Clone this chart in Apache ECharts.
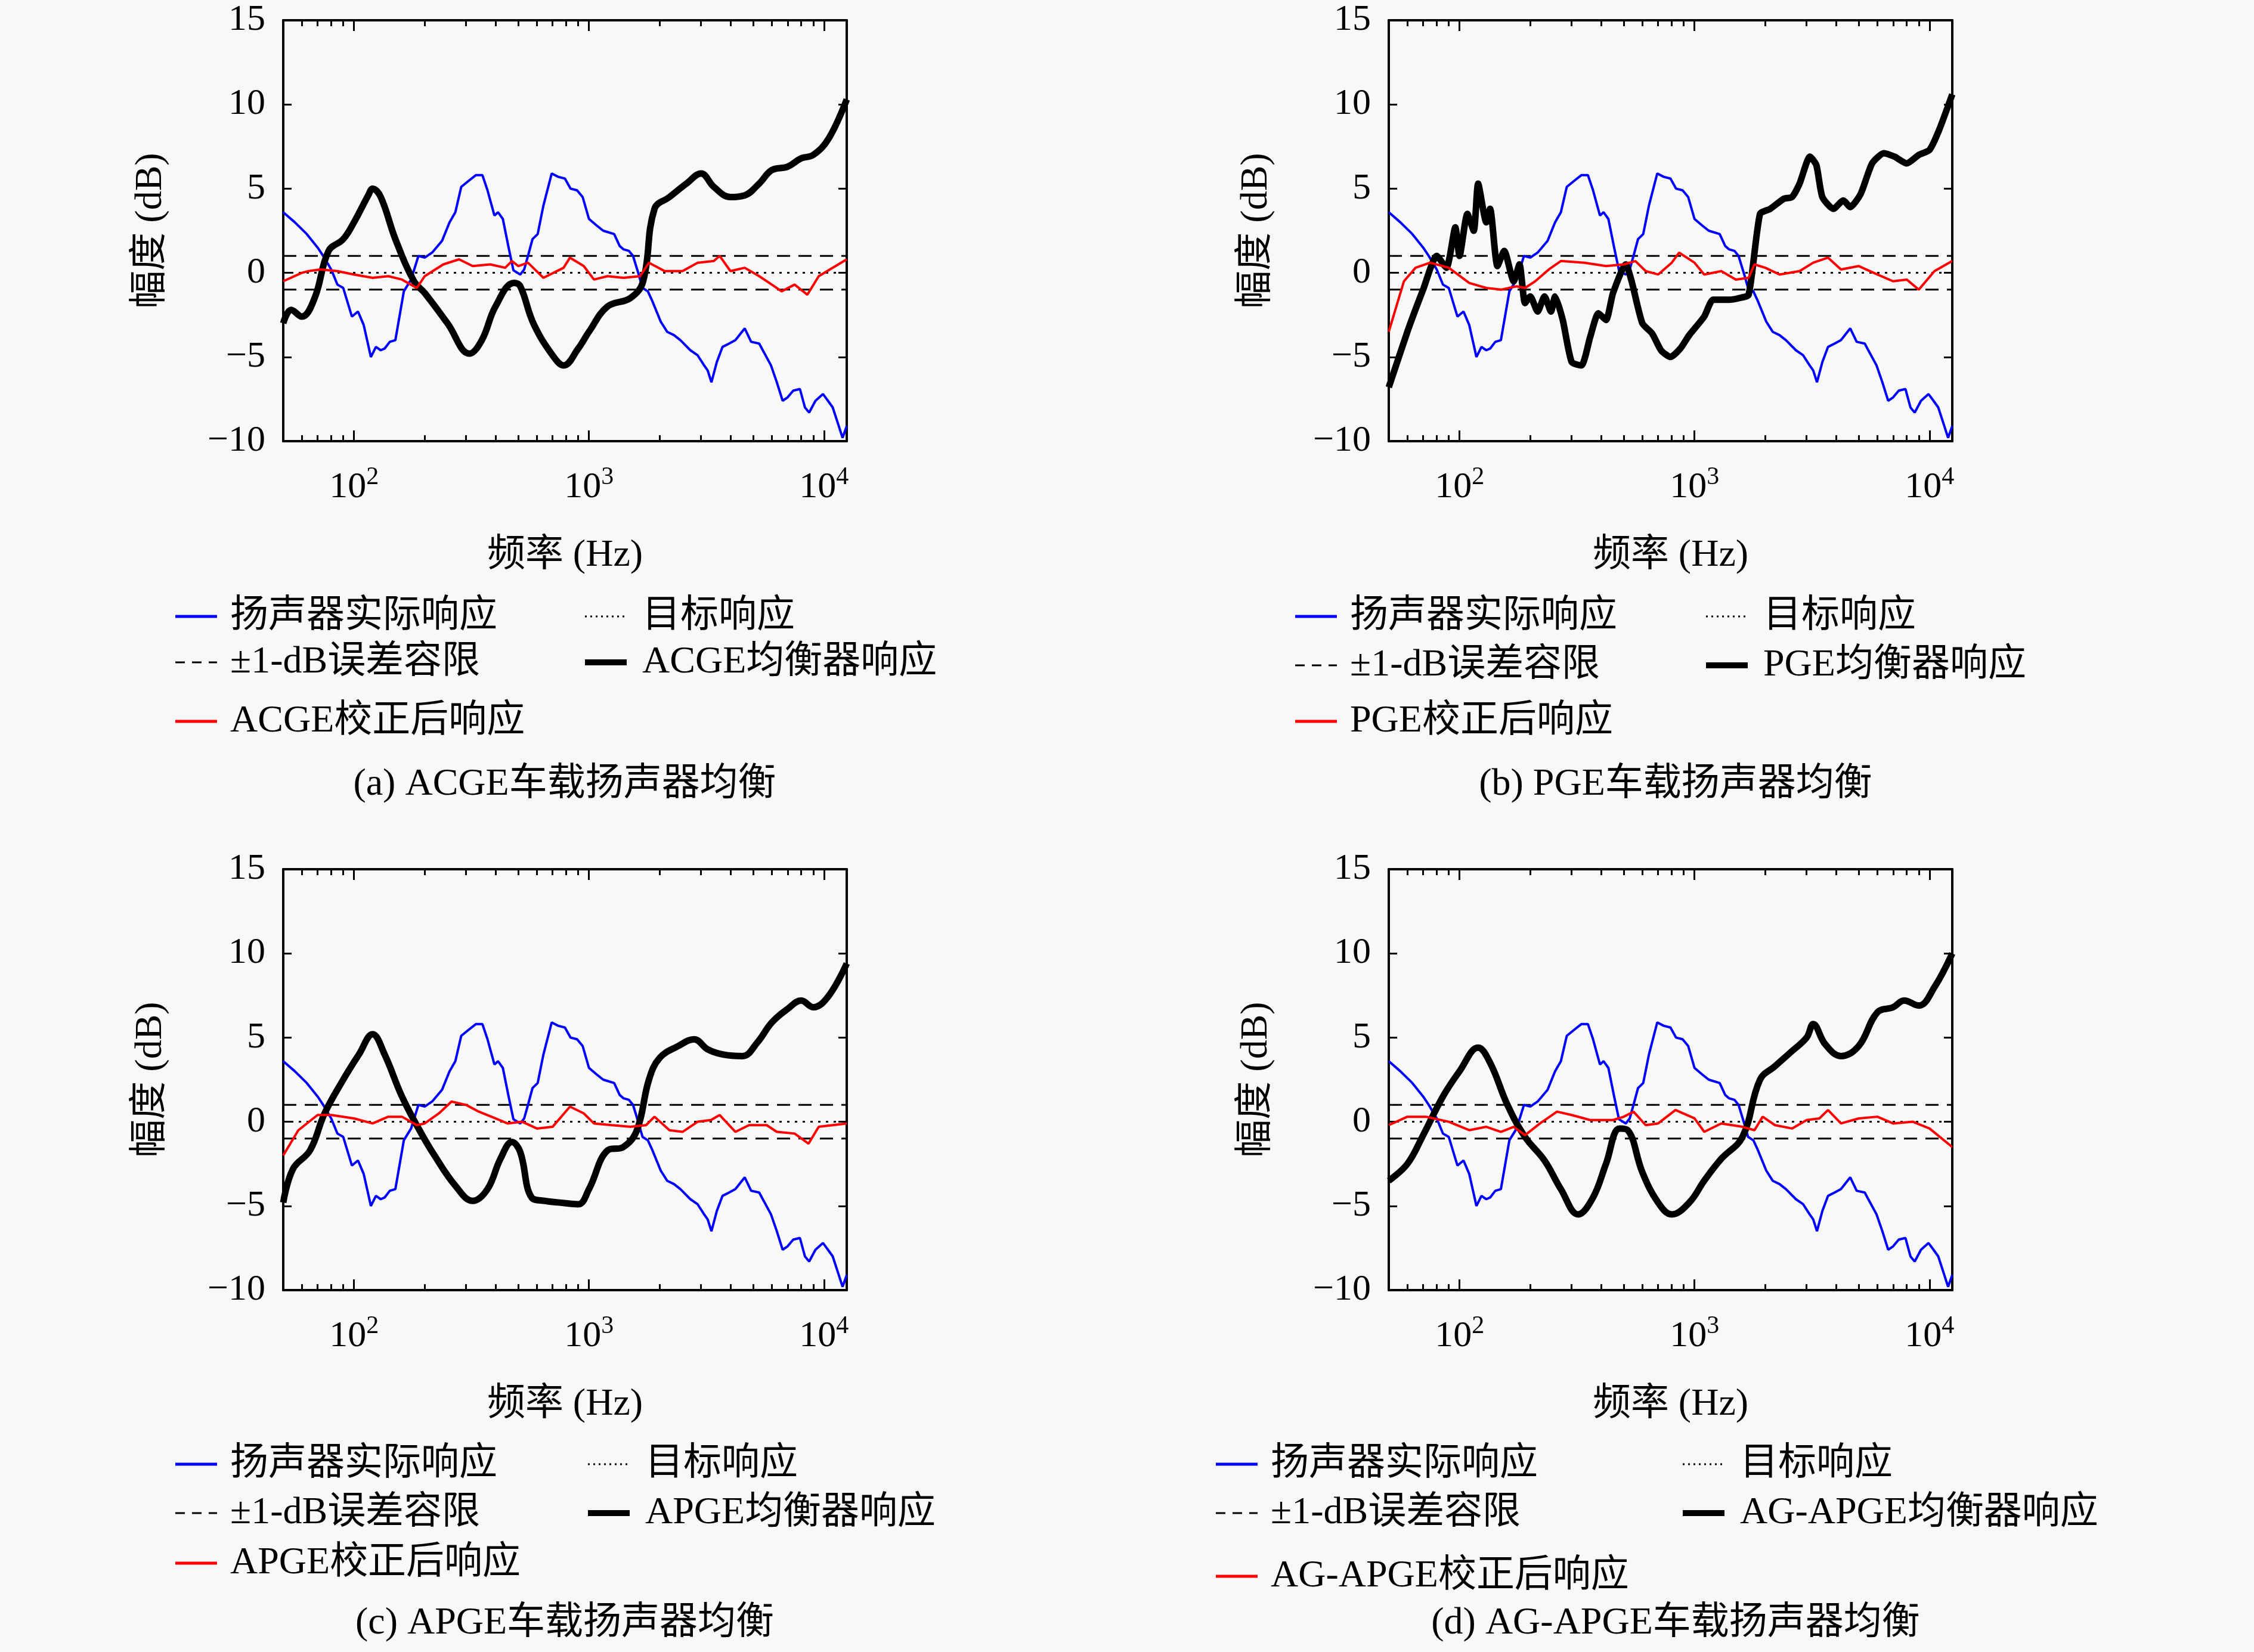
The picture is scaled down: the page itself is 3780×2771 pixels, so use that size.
<!DOCTYPE html>
<html>
<head>
<meta charset="utf-8">
<script src="https://cdn.jsdelivr.net/npm/echarts@6/dist/echarts.min.js"></script>
<style>
  html, body { margin: 0; padding: 0; background: #f8f8f8; }
  #main { width: 3780px; height: 2771px; }
</style>
</head>
<body>
<div id="main"></div>
<script>
// 扬声器实际响应（四幅图共用）
const blueF = [50,56,63,70,74,80,85,90,98,104,110,118,124,130,135,142,150,163,175,188,200,215,237,255,270,286,310,330,352,370,396,410,430,455,477,510,530,550,575,605,640,694,740,790,835,890,940,1000,1080,1150,1280,1350,1400,1480,1540,1620,1690,1780,1850,2020,2150,2300,2450,2700,2900,3090,3200,3320,3500,3700,3950,4200,4600,4900,5300,5950,6300,6670,7000,7400,7900,8300,8650,9200,9900,10400,10900,11500,12000,12500];
const blueV = [3.6,3.0,2.3,1.5,1.0,0.2,-0.7,-0.9,-2.6,-2.3,-3.1,-5.0,-4.4,-4.6,-4.5,-4.1,-4.0,-1.1,-0.4,1.0,0.9,1.2,1.9,3.0,3.6,5.1,5.5,5.8,5.8,4.9,3.4,3.6,3.2,1.5,0.15,-0.1,0.2,1.0,2.0,2.3,4.0,5.9,5.7,5.6,5.0,4.9,4.5,3.2,2.8,2.5,2.3,1.6,1.4,1.3,1.0,0.0,-0.9,-1.1,-1.6,-2.9,-3.5,-3.7,-4.0,-4.6,-4.9,-5.5,-5.8,-6.5,-5.3,-4.4,-4.2,-4.0,-3.3,-4.1,-4.2,-5.5,-6.5,-7.6,-7.4,-7.0,-6.9,-8.0,-8.3,-7.6,-7.2,-7.6,-8.0,-9.0,-9.8,-9.1];

// 目标响应与 ±1 dB 容限
const targetF = [50, 12500];
const targetV = [0, 0];
const tolUpper = [1, 1];
const tolLower = [-1, -1];

// (a) ACGE
const redAF = [50,60,64,72,85,100,120,140,160,185,200,240,280,320,380,440,470,500,550,640,780,830,950,1050,1200,1400,1650,1800,2100,2500,2900,3400,3600,4000,4600,5300,6000,6600,7500,8500,9500,12500];
const redAV = [-0.5,0.0,0.1,0.2,0.1,-0.1,-0.3,-0.2,-0.4,-0.9,-0.2,0.5,0.8,0.4,0.5,0.3,0.7,0.4,0.6,-0.3,0.3,0.9,0.4,-0.4,-0.2,-0.3,-0.2,0.6,0.1,0.1,0.6,0.7,1.0,0.1,0.3,-0.2,-0.7,-1.1,-0.7,-1.3,-0.2,0.8];
const blkAF = [50,54,60,68,78,90,100,115,120,130,150,180,200,250,310,350,400,480,510,580,700,780,900,1000,1200,1500,1700,1900,2200,2600,3000,3400,4000,4600,5300,6000,7000,8000,9000,10500,12500];
const blkAV = [-3.0,-2.2,-2.6,-1.5,1.3,2.0,3.0,4.6,5.0,4.5,2.0,-0.5,-1.2,-3.0,-4.8,-4.0,-2.0,-0.6,-0.8,-3.0,-4.9,-5.5,-4.5,-3.5,-2.0,-1.5,-0.5,3.8,4.5,5.3,5.9,5.1,4.5,4.6,5.3,6.1,6.3,6.8,7.0,8.0,10.3];

// (b) PGE
const redBF = [50,58,65,75,90,110,130,150,175,190,210,240,270,340,420,500,560,620,700,800,860,1000,1100,1300,1500,1700,1800,2000,2300,2800,3200,3700,4200,5000,6000,7000,8000,9000,10500,12500];
const redBV = [-3.5,-0.5,0.3,0.6,0.3,-0.6,-0.9,-1.0,-0.8,-0.9,-0.5,0.2,0.7,0.6,0.4,0.5,0.7,0.1,-0.1,0.6,1.2,0.6,-0.1,0.1,-0.4,-0.3,0.5,0.3,-0.1,0.1,0.6,0.9,0.2,0.4,-0.1,-0.5,-0.4,-1.0,0.1,0.7];
const blkBF = [50,60,70,80,88,96,100,108,115,120,130,135,145,155,170,180,190,200,215,230,245,255,275,300,330,360,390,420,450,510,540,600,660,720,790,870,950,1100,1200,1400,1550,1700,1900,2100,2400,2600,2800,3100,3300,3500,3900,4300,4600,5100,5700,6400,7100,8000,9000,10000,11000,12500];
const blkBV = [-6.8,-3.5,-1.0,1.0,0.3,2.7,1.0,3.5,2.5,5.3,3.0,3.8,0.4,1.3,-0.5,0.5,-1.8,-1.4,-2.3,-1.4,-2.3,-1.4,-2.8,-5.3,-5.5,-3.8,-2.4,-2.8,-1.2,0.5,-0.5,-3.0,-3.6,-4.6,-5.0,-4.5,-3.7,-2.6,-1.6,-1.6,-1.5,-1.3,3.5,3.8,4.4,4.5,5.3,6.9,6.4,4.5,3.8,4.3,3.9,4.7,6.5,7.1,6.9,6.5,7.0,7.3,8.5,10.6];

// (c) APGE
const redCF = [50,58,70,80,100,120,140,160,185,200,230,260,300,340,400,450,520,600,700,830,950,1050,1250,1500,1750,1900,2200,2500,2900,3300,3600,4200,4800,5700,6300,7500,8600,9500,12500];
const redCV = [-2.0,-0.5,0.4,0.4,0.2,-0.1,0.3,0.3,-0.2,-0.1,0.5,1.2,1.0,0.6,0.2,-0.1,0.0,-0.4,-0.3,0.9,0.5,-0.1,-0.2,-0.3,-0.2,0.3,-0.5,-0.6,0.0,0.1,0.4,-0.6,-0.2,-0.2,-0.6,-0.7,-1.3,-0.3,-0.1];
const blkCF = [50,55,65,75,90,105,120,135,160,190,220,270,320,370,420,470,510,570,650,750,900,1000,1200,1400,1600,1800,2000,2400,2800,3200,3700,4500,5200,6000,7000,8000,9000,10500,12500];
const blkCV = [-4.8,-2.8,-1.7,0.5,2.5,4.0,5.2,4.0,1.5,-0.5,-2.0,-3.8,-4.7,-4.0,-2.2,-1.2,-1.8,-4.5,-4.7,-4.8,-4.9,-4.0,-1.7,-1.5,-0.5,2.5,3.8,4.5,4.9,4.3,4.0,3.9,4.7,5.9,6.7,7.2,6.8,7.5,9.4];

// (d) AG-APGE
const redDF = [50,60,72,90,110,130,150,170,190,220,260,300,360,450,500,550,620,700,830,1000,1100,1300,1600,1800,1950,2200,2600,3000,3400,3700,4200,5000,6000,7000,8500,10000,12500];
const redDV = [-0.2,0.3,0.3,0.0,-0.5,-0.3,-0.6,-0.3,-0.8,-0.1,0.6,0.4,0.1,0.1,0.3,0.6,-0.2,-0.1,0.7,0.2,-0.6,-0.1,-0.3,-0.5,0.3,-0.2,-0.4,0.1,0.2,0.7,-0.1,0.2,0.3,-0.1,0.0,-0.4,-1.5];
const blkDF = [50,60,70,85,100,120,135,160,190,230,270,320,370,420,480,520,600,700,800,950,1100,1300,1600,1900,2200,2600,3000,3200,3600,4200,5000,6000,7000,7800,9000,10500,12500];
const blkDV = [-3.5,-2.5,-0.8,1.5,3.0,4.4,3.5,1.0,-0.9,-2.3,-4.0,-5.5,-4.5,-2.5,-0.4,-0.5,-3.0,-4.8,-5.5,-4.8,-3.5,-2.2,-0.9,2.5,3.3,4.2,5.0,5.8,4.6,3.9,4.5,6.5,6.8,7.2,6.9,8.0,10.0];

const xMajor = [100, 1000, 10000];
const xMinor = [60,70,80,90,200,300,400,500,600,700,800,900,2000,3000,4000,5000,6000,7000,8000,9000];

const panels = [
  { name: 'ACGE', caption: '(a) ACGE车载扬声器均衡', red: [redAF, redAV], blk: [blkAF, blkAV] },
  { name: 'PGE', caption: '(b) PGE车载扬声器均衡', red: [redBF, redBV], blk: [blkBF, blkBV] },
  { name: 'APGE', caption: '(c) APGE车载扬声器均衡', red: [redCF, redCV], blk: [blkCF, blkCV] },
  { name: 'AG-APGE', caption: '(d) AG-APGE车载扬声器均衡', red: [redDF, redDV], blk: [blkDF, blkDV] }
];

// 版面位置
const layout = [
  { left: 475, top: 34, legX: [294, 981], rows: [1034, 1111, 1210], capX: 947, capY: 1316 },
  { left: 2329, top: 34, legX: [2172, 2861], rows: [1034, 1116, 1210], capX: 2810, capY: 1316 },
  { left: 475, top: 1458, legX: [294, 986], rows: [2456, 2538, 2622], capX: 947, capY: 2723 },
  { left: 2329, top: 1458, legX: [2039, 2822], rows: [2456, 2538, 2644], capX: 2810, capY: 2723 }
];
const plotW = 945, plotH = 706;

const LATIN = '"Liberation Serif", "DejaVu Serif", "Noto Sans CJK SC", serif';
const lg = v => Math.log10(v);
const xMin = lg(50), xMax = lg(12500);
const toPts = (fs, vs) => fs.map((f, i) => [lg(f), vs[i]]);

const grids = [], xAxes = [], yAxes = [], series = [], graphics = [];

panels.forEach((p, k) => {
  const L = layout[k];
  grids.push({ left: L.left, top: L.top, width: plotW, height: plotH, show: false });
  const base = { gridIndex: k, type: 'value', min: xMin, max: xMax, splitLine: { show: false } };
  xAxes.push(Object.assign({}, base, {
    position: 'bottom',
    axisLine: { show: true, onZero: false, lineStyle: { color: '#000', width: 4 } },
    axisTick: { show: true, inside: true, length: 18, lineStyle: { color: '#000', width: 3 }, customValues: xMajor.map(lg) },
    axisLabel: {
      show: true, margin: 40, customValues: xMajor.map(lg),
      formatter: v => '{b|10}{s|' + Math.round(v) + '}',
      rich: {
        b: { fontFamily: LATIN, fontSize: 62, color: '#000' },
        s: { fontFamily: LATIN, fontSize: 42, color: '#000', padding: [0, 0, 34, 0] }
      }
    },
    name: '频率 (Hz)', nameLocation: 'middle', nameGap: 160,
    nameTextStyle: { fontFamily: LATIN, fontSize: 64, color: '#000' }
  }));
  xAxes.push(Object.assign({}, base, {
    position: 'bottom',
    axisLine: { show: false, onZero: false },
    axisTick: { show: true, inside: true, length: 10, lineStyle: { color: '#000', width: 3 }, customValues: xMinor.map(lg) },
    axisLabel: { show: false }
  }));
  xAxes.push(Object.assign({}, base, {
    position: 'top',
    axisLine: { show: true, onZero: false, lineStyle: { color: '#000', width: 4 } },
    axisTick: { show: true, inside: true, length: 18, lineStyle: { color: '#000', width: 3 }, customValues: xMajor.map(lg) },
    axisLabel: { show: false }
  }));
  xAxes.push(Object.assign({}, base, {
    position: 'top',
    axisLine: { show: false, onZero: false },
    axisTick: { show: true, inside: true, length: 10, lineStyle: { color: '#000', width: 3 }, customValues: xMinor.map(lg) },
    axisLabel: { show: false }
  }));
  const ybase = { gridIndex: k, type: 'value', min: -10, max: 15, interval: 5, splitLine: { show: false } };
  yAxes.push(Object.assign({}, ybase, {
    position: 'left',
    axisLine: { show: true, onZero: false, lineStyle: { color: '#000', width: 4 } },
    axisTick: { show: true, inside: true, length: 14, lineStyle: { color: '#000', width: 3 } },
    axisLabel: { show: true, margin: 30, fontFamily: LATIN, fontSize: 62, color: '#000',
      formatter: v => (v < 0 ? '\u2212' + Math.abs(v) : '' + v) },
    name: '幅度 (dB)', nameLocation: 'middle', nameGap: 190, nameRotate: 90,
    nameTextStyle: { fontFamily: LATIN, fontSize: 64, color: '#000' }
  }));
  yAxes.push(Object.assign({}, ybase, {
    position: 'right',
    axisLine: { show: true, onZero: false, lineStyle: { color: '#000', width: 4 } },
    axisTick: { show: true, inside: true, length: 14, lineStyle: { color: '#000', width: 3 } },
    axisLabel: { show: false }
  }));

  const xi = k * 4, yi = k * 2;
  const common = { type: 'line', xAxisIndex: xi, yAxisIndex: yi, symbol: 'none', silent: true, animation: false, clip: true };
  series.push(Object.assign({}, common, { name: 'tolU' + k, data: toPts(targetF, tolUpper), lineStyle: { color: '#000', width: 3, type: [22, 14] } }));
  series.push(Object.assign({}, common, { name: 'tolL' + k, data: toPts(targetF, tolLower), lineStyle: { color: '#000', width: 3, type: [22, 14] } }));
  series.push(Object.assign({}, common, { name: 'target' + k, data: toPts(targetF, targetV), lineStyle: { color: '#000', width: 3, type: [4, 9] } }));
  series.push(Object.assign({}, common, { name: 'blue' + k, data: toPts(blueF, blueV), lineStyle: { color: '#0000ff', width: 4 } }));
  series.push(Object.assign({}, common, { name: 'blk' + k, data: toPts(p.blk[0], p.blk[1]), smooth: k === 1 ? 0.2 : 0.4, lineStyle: { color: '#000', width: 11 } }));
  series.push(Object.assign({}, common, { name: 'red' + k, data: toPts(p.red[0], p.red[1]), lineStyle: { color: '#ff0000', width: 4 } }));

  // 图例
  const [c1, c2] = L.legX;
  const [r1, r2, r3] = L.rows;
  const txt = (x, y, s) => ({ type: 'text', x: x, y: y, style: { text: s, fontFamily: LATIN, fontSize: 64, fill: '#000', textVerticalAlign: 'middle', verticalAlign: 'middle' } });
  const seg = (x, y, color, w, dash) => ({ type: 'line', shape: { x1: x, y1: y, x2: x + 70, y2: y }, style: { stroke: color, lineWidth: w, lineDash: dash || null } });
  graphics.push(seg(c1, r1, '#0000ff', 5), txt(c1 + 92, r1, '扬声器实际响应'));
  graphics.push(seg(c1, r2, '#000', 3, [16, 12]), txt(c1 + 92, r2, '±1-dB误差容限'));
  graphics.push(seg(c1, r3, '#ff0000', 5), txt(c1 + 92, r3, p.name + '校正后响应'));
  graphics.push(seg(c2, r1, '#000', 3, [3, 6]), txt(c2 + 96, r1, '目标响应'));
  graphics.push(seg(c2, r2, '#000', 10), txt(c2 + 96, r2, p.name + '均衡器响应'));
  graphics.push({ type: 'text', x: L.capX, y: L.capY, style: { text: p.caption, fontFamily: LATIN, fontSize: 64, fill: '#000', align: 'center', textAlign: 'center', verticalAlign: 'middle', textVerticalAlign: 'middle' } });
});

const chart = echarts.init(document.getElementById('main'), null, { renderer: 'canvas' });
chart.setOption({
  backgroundColor: '#f8f8f8',
  animation: false,
  grid: grids,
  xAxis: xAxes,
  yAxis: yAxes,
  series: series,
  graphic: graphics
});
</script>
</body>
</html>
